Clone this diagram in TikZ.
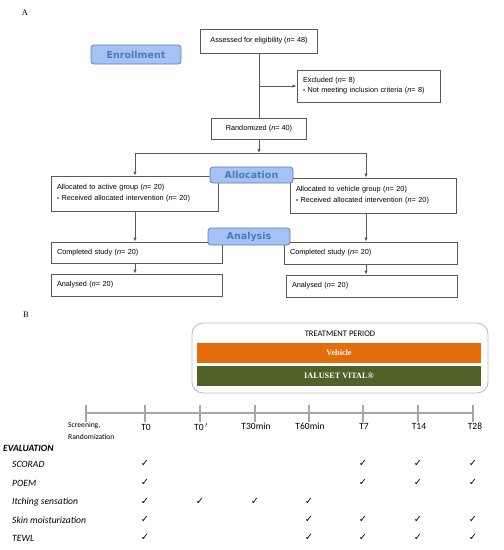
\documentclass[tikz,border=0pt]{standalone}
\usepackage{fontspec}
\setmainfont{Liberation Serif}
\newfontfamily\arialf{Liberation Sans}
\newfontfamily\verdf{DejaVu Sans}
\newfontfamily\calibf{Carlito}
\newfontfamily\chkf{DejaVu Sans}
\usetikzlibrary{arrows.meta}
\definecolor{boxgray}{HTML}{5A5A5A}
\definecolor{labfill}{HTML}{A4C2F4}
\definecolor{labdraw}{HTML}{5E7DB5}
\definecolor{labtext}{HTML}{4A7AB8}
\definecolor{vehorange}{HTML}{E46C0A}
\definecolor{ialgreen}{HTML}{4F6228}
\definecolor{tlgray}{HTML}{A6A6A6}
\definecolor{tpgray}{HTML}{BFBFBF}
\newcommand{\bul}{{\fontsize{6}{6}\selectfont\textbullet}\ }
\begin{document}
\begin{tikzpicture}[x=1pt,y=-1pt,
  afont/.style={font=\arialf\fontsize{7.3}{10.8}\selectfont},
  cbox/.style={draw=boxgray, line width=0.8pt, inner sep=0pt, align=center, afont},
  lbox/.style={draw=boxgray, line width=0.8pt, inner xsep=6pt, inner ysep=0pt, align=left, afont},
  lab/.style={draw=labdraw, fill=labfill, rounded corners=3pt, line width=0.8pt, text=labtext,
    font=\verdf\bfseries\fontsize{9.5}{11}\selectfont, inner sep=0pt},
  arr/.style={draw=boxgray, line width=0.8pt, -{Latex[length=4pt,width=3.4pt]}},
  ln/.style={draw=boxgray, line width=0.8pt},
  bar/.style={inner sep=0pt, minimum width=284pt, minimum height=20pt, text=white,
    font=\bfseries\fontsize{8.2}{10}\selectfont},
  tl/.style={font=\calibf\fontsize{9.5}{11}\selectfont},
  rowlab/.style={font=\calibf\itshape\fontsize{9.6}{11}\selectfont, anchor=west, inner sep=0pt},
  chk/.style={font=\chkf\fontsize{9.8}{10}\selectfont, inner sep=0pt}
]
\useasboundingbox (0,0) rectangle (504,550);

% ---------- Part A ----------
\node[font=\fontsize{8.5}{10}\selectfont] (labA) at (25,13) {A};

\node[cbox, minimum width=117pt, minimum height=24pt] (assess) at (259,41)
  {Assessed for eligibility (\textit{n}= 48)};
\node[lab, minimum width=90pt, minimum height=19pt] (enroll) at (136,54.5) {Enrollment};
\node[lbox, text width=131pt, minimum height=32pt] (excl) at (368.5,86)
  {Excluded (\textit{n}= 8)\\[-1pt]\bul Not meeting inclusion criteria (\textit{n}= 8)};
\node[cbox, minimum width=95pt, minimum height=21pt] (rand) at (259,128.5)
  {Randomized (\textit{n}= 40)};

\coordinate (ej) at (assess.south |- excl.west);
\draw[ln] (assess.south) -- (rand.north);
\draw[arr] (ej) -- (excl.west);

\coordinate (split) at (259,153);
\coordinate (lj) at (135,153);
\coordinate (rj) at (366,153);
\draw[arr] (rand.south) -- (split);
\draw[ln] (lj) -- (rj);

\node[lbox, text width=155pt, minimum height=35pt] (allocL) at (134.5,193.5)
  {Allocated to active group (\textit{n}= 20)\\\bul Received allocated intervention (\textit{n}= 20)};
\node[lbox, text width=154pt, minimum height=35pt] (allocR) at (373,195.5)
  {Allocated to vehicle group (\textit{n}= 20)\\\bul Received allocated intervention (\textit{n}= 20)};
\draw[arr] (lj) -- (lj |- allocL.north);
\draw[arr] (rj) -- (rj |- allocR.north);
\node[lab, minimum width=83pt, minimum height=16pt] (alloc) at (251.5,175) {Allocation};

\node[lbox, text width=159pt, minimum height=21pt] (compL) at (136.5,252.5)
  {Completed study (\textit{n}= 20)};
\node[lbox, text width=161pt, minimum height=22pt] (compR) at (370.5,253)
  {Completed study (\textit{n}= 20)};
\draw[arr] (allocL.south -| lj) -- (lj |- compL.north);
\draw[arr] (allocR.south -| rj) -- (rj |- compR.north);
\node[lab, minimum width=82pt, minimum height=17pt] (analysis) at (249,236.5) {Analysis};

\node[lbox, text width=159pt, minimum height=22pt] (anaL) at (136.5,285)
  {Analysed (\textit{n}= 20)};
\node[lbox, text width=159pt, minimum height=22pt] (anaR) at (371.5,286)
  {Analysed (\textit{n}= 20)};
\draw[arr] (compL.south -| lj) -- (lj |- anaL.north);
\draw[arr] (compR.south -| rj) -- (rj |- anaR.north);

% ---------- Part B ----------
\node[font=\fontsize{8.5}{10}\selectfont] (labB) at (26,315) {B};

\node[draw=tpgray, line width=0.9pt, rounded corners=11pt, minimum width=296pt,
  minimum height=70pt, inner sep=0pt] (tp) at (340,358) {};
\node[font=\calibf\fontsize{8.5}{10}\selectfont] (tptext) at (340,334) {TREATMENT PERIOD};
\node[bar, fill=vehorange] (veh) at (339,353) {Vehicle};
\node[bar, fill=ialgreen] (ial) at (339,376) {IALUSET VITAL\textregistered};

% timeline
\draw[tlgray, line width=2.6pt] (86,413) -- (473,413);
\foreach \x in {86,145,200,255,309,363,418,473}
  \draw[tlgray, line width=2pt] (\x,404.5) -- (\x,421.5);

\node[font=\calibf\fontsize{7.6}{11.5}\selectfont, align=left, anchor=west, inner sep=0pt] (scr) at (68,431)
  {Screening,\\Randomization};
\node[tl] (t0) at (146,427) {T0};
\node[tl] (t0p) at (201,427) {T0$^{\,\prime}$};
\node[tl] (t30) at (256,426) {T30min};
\node[tl] (t60) at (310,426) {T60min};
\node[tl] (t7) at (364,426) {T7};
\node[tl] (t14) at (419,426) {T14};
\node[tl] (t28) at (475,426) {T28};

\node[font=\calibf\bfseries\itshape\fontsize{9.6}{11}\selectfont, anchor=west, inner sep=0pt] (eval) at (3,448) {EVALUATION};
\node[rowlab] (r1) at (12,464) {SCORAD};
\node[rowlab] (r2) at (12,483) {POEM};
\node[rowlab] (r3) at (12,502) {Itching sensation};
\node[rowlab] (r4) at (12,520) {Skin moisturization};
\node[rowlab] (r5) at (12,538) {TEWL};

\foreach \x in {145,363,418,473} {
  \node[chk] at (\x,463) {✓};
  \node[chk] at (\x,482) {✓};
}
\foreach \x in {145,200,255,309}
  \node[chk] at (\x,501) {✓};
\foreach \x in {145,309,363,418,473} {
  \node[chk] at (\x,519) {✓};
  \node[chk] at (\x,537) {✓};
}
\end{tikzpicture}
\end{document}
